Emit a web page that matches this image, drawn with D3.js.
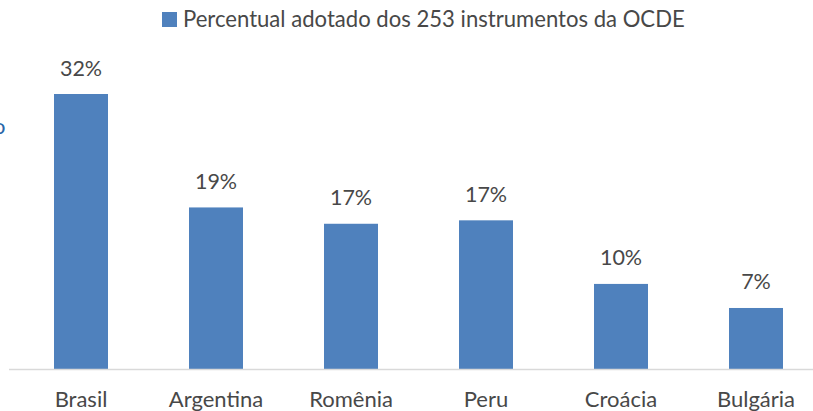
<!DOCTYPE html>
<html>
<head>
<meta charset="utf-8">
<script src="https://cdn.jsdelivr.net/npm/d3@7"></script>
<style>
  body { margin: 0; background: #fff; }
  text { font-family: Lato, "Open Sans", sans-serif; }
</style>
</head>
<body>
<svg width="813" height="411"></svg>
<script>
var svg = d3.select("svg"),
    width = +svg.attr("width"),
    height = +svg.attr("height");

// data
var countries = ["Brasil", "Argentina", "Romênia", "Peru", "Croácia", "Bulgária"];
var percentAdopted = [32, 18.8, 16.9, 17.3, 9.9, 7.1];
var seriesName = "Percentual adotado dos 253 instrumentos da OCDE";

var barColor = "#4F81BD",
    textColor = "#484848";

var baseY = 369;

var x = d3.scaleBand()
  .domain(countries)
  .range([13.5, 823.5])
  .paddingInner(0.6)
  .paddingOuter(0.3);

var y = d3.scaleLinear()
  .domain([0, 32])
  .range([baseY, 94]);

// bars
svg.append("g")
  .selectAll("rect")
  .data(percentAdopted)
  .enter().append("rect")
    .attr("x", function(d, i) { return x(countries[i]); })
    .attr("y", function(d) { return y(d); })
    .attr("width", x.bandwidth())
    .attr("height", function(d) { return baseY - y(d); })
    .attr("fill", barColor);

// value labels
svg.append("g")
  .selectAll("text")
  .data(percentAdopted)
  .enter().append("text")
    .attr("x", function(d, i) { return x(countries[i]) + x.bandwidth() / 2; })
    .attr("y", function(d) { return y(d) - 18.5; })
    .attr("text-anchor", "middle")
    .attr("font-size", 21.5)
    .attr("fill", textColor)
    .text(function(d) { return d3.format(".0f")(d) + "%"; });

// axis line
svg.append("line")
  .attr("x1", 9).attr("x2", width)
  .attr("y1", baseY + 0.5).attr("y2", baseY + 0.5)
  .attr("stroke", "#d9d9d9")
  .attr("stroke-width", 1.5);

// category labels
var xAxis = svg.append("g")
  .attr("transform", "translate(0," + baseY + ")")
  .call(d3.axisBottom(x).tickSize(0).tickPadding(0));
xAxis.select(".domain").remove();
xAxis.selectAll("text")
  .attr("dy", null)
  .attr("y", 38)
  .attr("font-size", 22)
  .attr("font-family", "Lato, 'Open Sans', sans-serif")
  .attr("fill", textColor);

// legend
var legend = svg.append("g").attr("transform", "translate(162,12)");
legend.append("rect")
  .attr("width", 15).attr("height", 15)
  .attr("fill", barColor);
legend.append("text")
  .attr("x", 21).attr("y", 15)
  .attr("font-size", 22.1)
  .attr("fill", textColor)
  .text(seriesName);

// cropped leftover glyph at the left edge
svg.append("text")
  .attr("x", -7).attr("y", 134)
  .attr("font-size", 22)
  .attr("fill", "#2a66a8")
  .text("o");
</script>
</body>
</html>
